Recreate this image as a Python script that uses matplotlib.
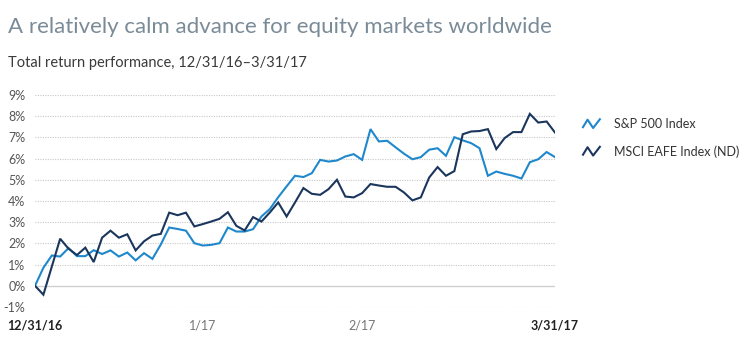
import matplotlib
matplotlib.use("Agg")
import matplotlib.pyplot as plt
from matplotlib.lines import Line2D
from matplotlib.legend_handler import HandlerBase

plt.rcParams['font.family'] = ['Lato', 'DejaVu Sans']

# ---- data ----
sp500 = [0, 0.85, 1.43, 1.38, 1.78, 1.40, 1.40, 1.68, 1.50, 1.67, 1.38, 1.57, 1.20, 1.54, 1.27,
         1.95, 2.75, 2.68, 2.60, 2.01, 1.90, 1.93, 2.01, 2.75, 2.56, 2.56, 2.67, 3.27, 3.62, 4.18,
         4.69, 5.19, 5.13, 5.31, 5.94, 5.86, 5.91, 6.10, 6.21, 5.94, 7.39, 6.81, 6.84, 6.53, 6.23,
         5.97, 6.07, 6.42, 6.49, 6.13, 7.01, 6.86, 6.73, 6.49, 5.19, 5.39, 5.28, 5.19, 5.06, 5.83,
         5.97, 6.31, 6.07]
eafe = [0, -0.42, 0.90, 2.22, 1.75, 1.45, 1.80, 1.12, 2.27, 2.60, 2.27, 2.43, 1.67, 2.10, 2.37,
        2.45, 3.45, 3.33, 3.45, 2.80, 2.91, 3.03, 3.16, 3.47, 2.83, 2.61, 3.24, 3.03, 3.46, 3.93,
        3.27, 3.93, 4.61, 4.34, 4.29, 4.56, 5.00, 4.21, 4.17, 4.37, 4.80, 4.73, 4.67, 4.67, 4.40,
        4.03, 4.17, 5.11, 5.60, 5.19, 5.41, 7.15, 7.28, 7.30, 7.39, 6.45, 6.97, 7.25, 7.25, 8.11,
        7.70, 7.75, 7.23]
series_names = ["S&P 500 Index", "MSCI EAFE Index (ND)"]
x_tick_pos = [0, 20, 39, 62]
x_tick_labels = ["12/31/16", "1/17", "2/17", "3/31/17"]
y_ticks = list(range(-1, 10))

C_SP = "#1f88cc"
C_EAFE = "#1b365d"

W, H = 750, 363
fig = plt.figure(figsize=(W / 100, H / 100), dpi=100)
fig.patch.set_facecolor("white")

ax = fig.add_axes([35 / W, 1 - 307 / H, 520 / W, 212 / H])
ax.set_xlim(0, len(sp500) - 1)
ax.set_ylim(-1, 9)
for s in ax.spines.values():
    s.set_visible(False)

for v in y_ticks:
    if v == 0:
        ax.axhline(v, color="#d0d0d0", lw=1.0, zorder=1)
    else:
        ax.axhline(v, color="#c8c8c8", lw=0.8, ls=(0, (1, 1.2)), zorder=1)

xs = list(range(len(sp500)))
ax.plot(xs, sp500, color=C_SP, lw=1.5, zorder=3, solid_joinstyle="miter")
ax.plot(xs, eafe, color=C_EAFE, lw=1.5, zorder=4, solid_joinstyle="miter")

ax.set_yticks(y_ticks)
ax.set_yticklabels([f"{v}%" for v in y_ticks], fontsize=9, color="#555555")
ax.tick_params(axis="y", length=0, pad=7)
ax.set_xticks(x_tick_pos)
ax.set_xticklabels(x_tick_labels, fontsize=9, color="#777777")
ax.tick_params(axis="x", length=0, pad=9)
for i, lab in enumerate(ax.get_xticklabels()):
    if i in (0, len(x_tick_pos) - 1):
        lab.set_fontweight("bold")
        lab.set_color("#222222")

fig.text(8 / W, 1 - 27 / H, "A relatively calm advance for equity markets worldwide",
         fontsize=16, fontweight="normal", color="#7a8b98", va="center", ha="left")
fig.text(8 / W, 1 - 63 / H, "Total return performance, 12/31/16\u20133/31/17",
         fontsize=10.5, fontweight="normal", color="#3a3a3a", va="center", ha="left")


class ZigZag(HandlerBase):
    def create_artists(self, legend, orig_handle, xdescent, ydescent, width, height, fontsize, trans):
        x0, y0 = -xdescent, -ydescent
        px = [x0, x0 + 0.27 * width, x0 + 0.6 * width, x0 + width]
        py = [y0 + 0.1 * height, y0 + 0.95 * height, y0, y0 + 1.0 * height]
        ln = Line2D(px, py, color=orig_handle.get_color(), lw=1.5, transform=trans)
        return [ln]


handles = [Line2D([], [], color=C_SP), Line2D([], [], color=C_EAFE)]
leg = fig.legend(handles, series_names, loc="upper left",
                 bbox_to_anchor=(583 / W, 1 - 118 / H), frameon=False,
                 handler_map={Line2D: ZigZag()}, handlelength=1.35, handleheight=0.7,
                 handletextpad=1.1, labelspacing=1.2, borderpad=0, borderaxespad=0,
                 prop={"size": 9})
for t in leg.get_texts():
    t.set_color("#333333")

fig.savefig("out.png", dpi=100, facecolor="white")
